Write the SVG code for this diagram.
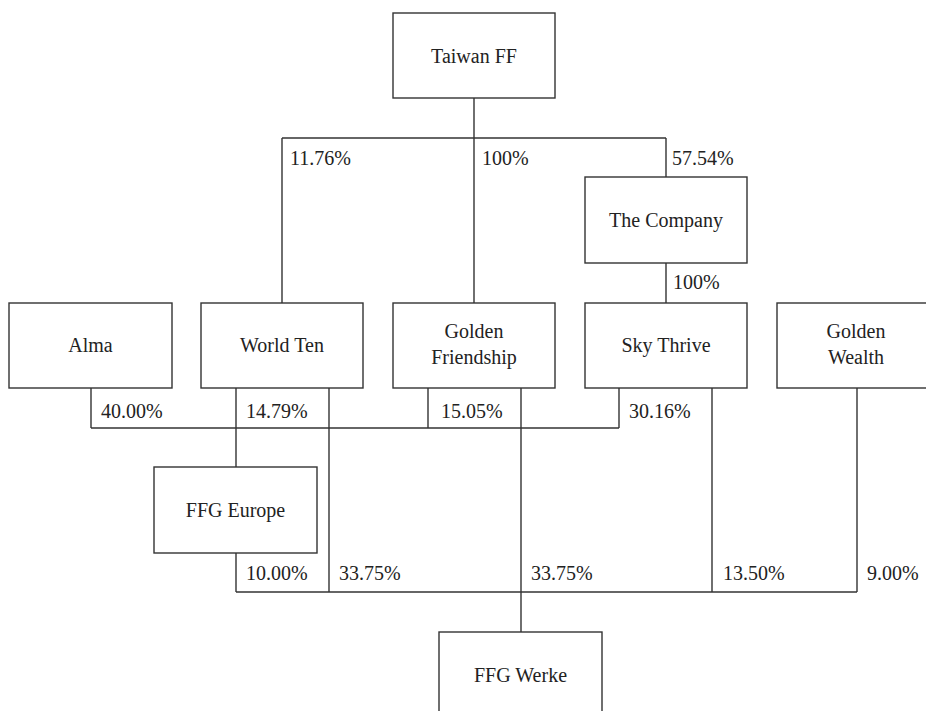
<svg xmlns="http://www.w3.org/2000/svg" width="926" height="711" viewBox="0 0 926 711">
<style>
rect.box{fill:#fff;stroke:#333;stroke-width:1.4}
#connectors line{stroke:#333;stroke-width:1.4;fill:none}
text{font-size:20px;fill:#222}
text.c{text-anchor:middle}
</style>
<rect width="926" height="711" fill="#fff"/>
<g id="connectors">
<line x1="474" y1="98" x2="474" y2="138"/>
<line x1="282" y1="138" x2="666" y2="138"/>
<line x1="282" y1="138" x2="282" y2="303"/>
<line x1="474" y1="138" x2="474" y2="303"/>
<line x1="666" y1="138" x2="666" y2="177"/>
<line x1="666" y1="263" x2="666" y2="303"/>
<line x1="91" y1="388" x2="91" y2="428"/>
<line x1="236" y1="388" x2="236" y2="467"/>
<line x1="428" y1="388" x2="428" y2="428"/>
<line x1="619" y1="388" x2="619" y2="428"/>
<line x1="91" y1="428" x2="619" y2="428"/>
<line x1="236" y1="553" x2="236" y2="592"/>
<line x1="329" y1="388" x2="329" y2="592"/>
<line x1="521" y1="388" x2="521" y2="632"/>
<line x1="712" y1="388" x2="712" y2="592"/>
<line x1="857" y1="388" x2="857" y2="592"/>
<line x1="236" y1="592" x2="857" y2="592"/>
</g>
<g font-family="'Liberation Serif', 'Times New Roman', serif">
<g id="labels">
<text x="290" y="165">11.76%</text>
<text x="482" y="165">100%</text>
<text x="672" y="165">57.54%</text>
<text x="673" y="289">100%</text>
<text x="101" y="418">40.00%</text>
<text x="246" y="418">14.79%</text>
<text x="441" y="418">15.05%</text>
<text x="629" y="418">30.16%</text>
<text x="246" y="580">10.00%</text>
<text x="339" y="580">33.75%</text>
<text x="531" y="580">33.75%</text>
<text x="723" y="580">13.50%</text>
<text x="867" y="580">9.00%</text>
</g>
<g id="taiwan-ff"><rect class="box" x="393" y="13" width="162" height="85"/><text class="c" x="474" y="63">Taiwan FF</text></g>
<g id="the-company"><rect class="box" x="585" y="177" width="162" height="86"/><text class="c" x="666" y="227">The Company</text></g>
<g id="alma"><rect class="box" x="9" y="303" width="163" height="85"/><text class="c" x="90.5" y="352">Alma</text></g>
<g id="world-ten"><rect class="box" x="201" y="303" width="162" height="85"/><text class="c" x="282" y="352">World Ten</text></g>
<g id="golden-friendship"><rect class="box" x="393" y="303" width="162" height="85"/><text class="c" x="474" y="338">Golden</text><text class="c" x="474" y="364">Friendship</text></g>
<g id="sky-thrive"><rect class="box" x="585" y="303" width="162" height="85"/><text class="c" x="666" y="352">Sky Thrive</text></g>
<g id="golden-wealth"><rect class="box" x="777" y="303" width="162" height="85"/><text class="c" x="856" y="338">Golden</text><text class="c" x="856" y="364">Wealth</text></g>
<g id="ffg-europe"><rect class="box" x="154" y="467" width="163" height="86"/><text class="c" x="235.5" y="517">FFG Europe</text></g>
<g id="ffg-werke"><rect class="box" x="439" y="632" width="163" height="90"/><text class="c" x="520.5" y="682">FFG Werke</text></g>
</g>
</svg>
